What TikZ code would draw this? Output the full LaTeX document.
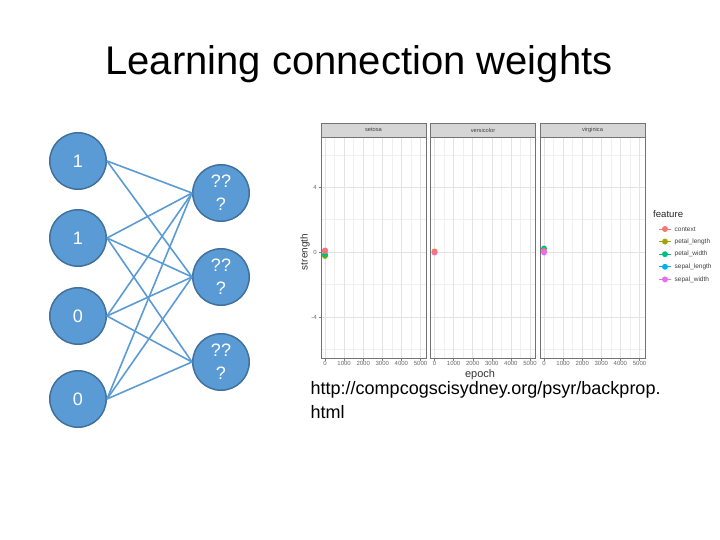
\documentclass[tikz,border=0pt]{standalone}
\usepackage{fontspec}
\setmainfont{Liberation Sans}
\usetikzlibrary{positioning}

\definecolor{unitblue}{HTML}{5B9BD5}
\definecolor{unitedge}{HTML}{41719C}
\definecolor{ggred}{HTML}{F8766D}
\definecolor{ggolive}{HTML}{A3A500}
\definecolor{gggreen}{HTML}{00BF7D}
\definecolor{ggblue}{HTML}{00B0F6}
\definecolor{ggpink}{HTML}{E76BF3}

\begin{document}
\begin{tikzpicture}[
  x=1pt, y=-1pt,
  % units of the little network
  unit/.style={circle, draw=unitedge, fill=unitblue, line width=1.5pt,
    minimum size=56.5pt, inner sep=0pt, text=white, align=center,
    font=\fontsize{18}{23}\selectfont},
  link/.style={draw=unitblue, line width=1.6pt},
  % facetted plot pieces
  majorgrid/.style={draw=black!11, line width=0.6pt},
  minorgrid/.style={draw=black!6, line width=0.4pt},
  panelframe/.style={draw=black!55, line width=0.5pt},
  strip/.style={draw=black!55, fill=black!16, line width=0.5pt},
  striptext/.style={font=\fontsize{5.7}{6}\selectfont, text=black!75, inner sep=0pt},
  ticktext/.style={font=\fontsize{6}{7}\selectfont, text=black!60, inner sep=0pt},
  axistitle/.style={font=\fontsize{10}{12}\selectfont, text=black!80, inner sep=0pt},
  legendtext/.style={font=\fontsize{6.5}{7}\selectfont, text=black!75, inner sep=0pt}
]
\useasboundingbox (0,0) rectangle (720,540);

\node[anchor=base, font=\fontsize{40}{48}\selectfont] (title) at (359,75)
  {Learning connection weights};

% input and output units
\node[unit] (in1) at (78,161) {1};
\node[unit] (in2) at (78,238) {1};
\node[unit] (in3) at (78,316) {0};
\node[unit] (in4) at (78,399) {0};
\node[unit] (out1) at (221,193) {??\\?};
\node[unit] (out2) at (221,277) {??\\?};
\node[unit] (out3) at (221,362) {??\\?};
\foreach \i/\o in {1/1,1/2,2/1,2/2,2/3,3/1,3/2,3/3,4/1,4/2,4/3}
  \draw[link] (in\i.east) -- (out\o.west);

% one facet per species
\foreach \species/\px in {setosa/321,versicolor/430.5,virginica/540} {
  \begin{scope}[shift={(\px,0)}]
    \foreach \gy in {155,219.5,284.5,349}
      \draw[minorgrid] (0,\gy) -- (105,\gy);
    \foreach \gx in {13.55,32.65,51.75,70.85,89.95}
      \draw[minorgrid] (\gx,137) -- (\gx,358);
    \foreach \gy in {187,252,317}
      \draw[majorgrid] (0,\gy) -- (105,\gy);
    \foreach \gx/\lab in {4/0,23.1/1000,42.2/2000,61.3/3000,80.4/4000,99.5/5000} {
      \draw[majorgrid] (\gx,137) -- (\gx,358);
      \draw[black!50, line width=0.4pt] (\gx,358) -- (\gx,360.5);
      \node[ticktext, anchor=north] at (\gx,361.5) {\lab};
    }
    \draw[panelframe] (0,137) rectangle (105,358);
    \draw[strip] (0,123) rectangle (105,137);
    \node[striptext] at (52.5,130) {\species};
  \end{scope}
}

% y axis
\foreach \gy/\lab in {187/4,252/0,317/-4} {
  \draw[black!50, line width=0.4pt] (318.5,\gy) -- (321,\gy);
  \node[ticktext, anchor=east] at (317,\gy) {\lab};
}
\node[axistitle, rotate=90] (ytitle) at (305,252) {strength};
\node[axistitle, font=\fontsize{11}{12}\selectfont] (xtitle) at (480,375) {epoch};

% weights at epoch 0
\fill[ggolive] (325,256) circle[radius=3];
\fill[gggreen] (325,254.5) circle[radius=3];
\fill[ggpink] (325,250.5) circle[radius=3];
\fill[ggred] (325,251) circle[radius=3];
\fill[ggpink] (434.5,252.5) circle[radius=3];
\fill[ggred] (434.5,251.5) circle[radius=3];
\fill[gggreen] (544,248.5) circle[radius=3];
\fill[ggred] (544,251) circle[radius=3];
\fill[ggpink] (544,252.5) circle[radius=3];

% legend
\node[anchor=west, inner sep=0pt, font=\fontsize{9.6}{11}\selectfont, text=black!85]
  (legtitle) at (653,214) {feature};
\foreach \c/\lab [count=\n, evaluate=\n as \ky using 216.4+12.6*\n] in
  {ggred/context,ggolive/petal\_length,gggreen/petal\_width,ggblue/sepal\_length,ggpink/sepal\_width} {
  \draw[\c, line width=0.9pt] (659,\ky) -- (671,\ky);
  \fill[\c] (665,\ky) circle[radius=3];
  \node[legendtext, anchor=west] (leg\n) at (674.5,\ky) {\lab};
}

\node[anchor=base west, align=left, inner sep=0pt,
  font=\fontsize{18}{23.5}\selectfont] (source) at (310.5,418)
  {http://compcogscisydney.org/psyr/backprop.\\html};
\end{tikzpicture}
\end{document}
